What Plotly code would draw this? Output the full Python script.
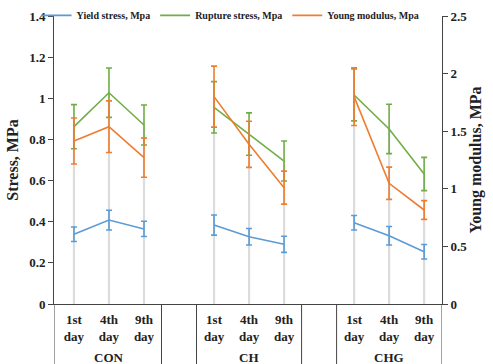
import plotly.graph_objects as go

groups = ["CON", "CH", "CHG"]
days = ["1st<br>day", "4th<br>day", "9th<br>day"]

yield_stress = [0.339, 0.408, 0.365, 0.384, 0.327, 0.290, 0.395, 0.332, 0.254]
yield_err = [0.035, 0.048, 0.037, 0.049, 0.040, 0.039, 0.035, 0.045, 0.035]
rupture_stress = [0.862, 1.027, 0.870, 0.956, 0.826, 0.695, 1.016, 0.851, 0.632]
rupture_err = [0.107, 0.120, 0.097, 0.125, 0.103, 0.097, 0.126, 0.120, 0.081]
young_mod = [1.415, 1.539, 1.270, 1.800, 1.386, 1.010, 1.800, 1.048, 0.816]
young_err = [0.200, 0.224, 0.170, 0.265, 0.200, 0.143, 0.250, 0.140, 0.081]

LEFT_MAX = 1.4
RIGHT_MAX = 2.5

BLUE = "#5B9BD5"
GREEN = "#70AD47"
ORANGE = "#ED7D31"
FONT = "Liberation Serif"

# positions: each group has 3 days, one empty slot between groups
xpos = []
for g in range(len(groups)):
    for d in range(len(days)):
        xpos.append(g * (len(days) + 1) + d)

fig = go.Figure()

# gray drop lines from 0 to the highest point of each category
dx, dy = [], []
for i, x in enumerate(xpos):
    top = max(rupture_stress[i], young_mod[i] * LEFT_MAX / RIGHT_MAX, yield_stress[i])
    dx += [x, x, None]
    dy += [0, top, None]
fig.add_trace(go.Scatter(x=dx, y=dy, mode="lines", line=dict(color="#DCDCDC", width=2.2),
                         showlegend=False, hoverinfo="skip"))


def seg_series(vals):
    xs, ys = [], []
    for g in range(len(groups)):
        for d in range(len(days)):
            k = g * len(days) + d
            xs.append(xpos[k])
            ys.append(vals[k])
        xs.append(None)
        ys.append(None)
    return xs, ys


def seg_err(errs):
    out = []
    for g in range(len(groups)):
        for d in range(len(days)):
            out.append(errs[g * len(days) + d])
        out.append(0)
    return out


for name, vals, errs, color, axis in [
    ("Yield stress, Mpa", yield_stress, yield_err, BLUE, "y"),
    ("Rupture stress, Mpa", rupture_stress, rupture_err, GREEN, "y"),
    ("Young modulus, Mpa", young_mod, young_err, ORANGE, "y2"),
]:
    xs, ys = seg_series(vals)
    fig.add_trace(go.Scatter(
        x=xs, y=ys, mode="lines", name=name, yaxis=axis,
        line=dict(color=color, width=1.6),
        error_y=dict(type="data", array=seg_err(errs), visible=True,
                     color=color, thickness=1.6, width=3),
        connectgaps=False,
    ))

ticktext = []
for g in groups:
    ticktext += days

fig.update_layout(
    width=493, height=364,
    margin=dict(l=54, r=51, t=16, b=60, autoexpand=False),
    paper_bgcolor="white", plot_bgcolor="white",
    font=dict(family=FONT, color="#222"),
    showlegend=True,
    legend=dict(orientation="h", x=-0.045, y=1.002, xanchor="left", yanchor="middle",
                font=dict(family=FONT, size=10, color="#222", weight="bold"),
                bgcolor="rgba(0,0,0,0)", itemwidth=30, tracegroupgap=0),
    xaxis=dict(range=[-0.57, 10.51], tickvals=xpos, ticktext=ticktext,
               showgrid=False, zeroline=False, showline=True, linecolor="#444",
               linewidth=1, ticks="", ticklabelstandoff=3,
               tickfont=dict(family=FONT, size=13, color="#222", weight="bold")),
    yaxis=dict(range=[0, LEFT_MAX], dtick=0.2, showgrid=False, zeroline=False,
               showline=True, linecolor="#444", linewidth=1, ticks="outside",
               ticklen=5, tickcolor="#444",
               tickfont=dict(family=FONT, size=13, color="#222", weight="bold"),
               tickformat="~g",
               title=dict(text="Stress, MPa",
                          font=dict(family=FONT, size=16, color="#222", weight="bold"),
                          standoff=6)),
    yaxis2=dict(range=[0, RIGHT_MAX], dtick=0.5, overlaying="y", side="right",
                showgrid=False, zeroline=False, showline=True, linecolor="#444",
                linewidth=1, ticks="outside", ticklen=5, tickcolor="#444",
                tickfont=dict(family=FONT, size=13, color="#222", weight="bold"),
                tickformat="~g",
                title=dict(text="Young modulus, MPa",
                           font=dict(family=FONT, size=16, color="#222", weight="bold"),
                           standoff=2)),
)

# axis extensions and group dividers below the category axis
shapes = []
for xv in [-0.57, 2.5, 3.5, 6.5, 7.5, 10.51]:
    shapes.append(dict(type="line", xref="x", yref="paper", x0=xv, x1=xv, y0=0, y1=-0.21,
                       line=dict(color="#444", width=1)))
fig.update_layout(shapes=shapes)

for g, name in enumerate(groups):
    center = xpos[g * len(days) + 1]
    fig.add_annotation(x=center, xref="x", y=-0.185, yref="paper", text="<b>%s</b>" % name,
                       showarrow=False, font=dict(family=FONT, size=13, color="#222"),
                       yanchor="middle")

fig.write_html("out.html", config={"displayModeBar": False},
               post_script="document.body.style.margin='0';document.body.style.overflow='hidden';")
